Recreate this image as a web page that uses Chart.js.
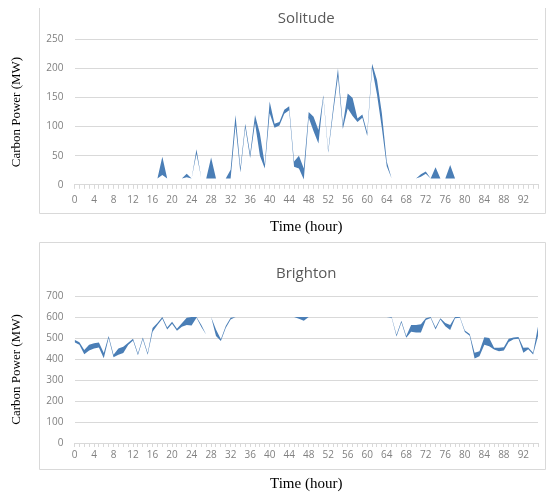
<!DOCTYPE html>
<html>
<head>
<meta charset="utf-8">
<script src="https://cdn.jsdelivr.net/npm/chart.js@4.4.1/dist/chart.umd.min.js"></script>
<style>
html,body{margin:0;padding:0;background:#fff;width:546px;height:492px;overflow:hidden;}
#topChart{position:absolute;left:0;top:0;}
#bottomChart{position:absolute;left:0;top:240px;}
</style>
</head>
<body>
<canvas id="topChart" width="546" height="240"></canvas>
<canvas id="bottomChart" width="546" height="252"></canvas>
<script>
// ---- categories (hours 0..95) ----
const hours = Array.from({length: 96}, (_, i) => String(i));

// ---- Solitude: upper and lower bound of the band (MW) ----
const solitudeHigh = [
  0,0,0,0,0,0,0,0,0,0,0,0,0,0,0,0,0,
  11,48,11,0,0,11,19,11,61,11,11,47,11,0,11,26,120,29,105,53,120,88,35,
  143,105,108,129,135,40,50,28,125,117,94,154,59,131,200,103,157,149,114,121,90,
  208,180,123,40,11,0,0,0,0,11,18,23,11,30,11,11,34,11,
  0,0,0,0,0,0,0,0,0,0,0,0,0,0,0,0,0
];
const solitudeLow = [
  0,0,0,0,0,0,0,0,0,0,0,0,0,0,0,0,0,
  11,17,11,0,0,11,13,11,53,11,11,11,11,0,11,11,102,21,98,46,106,50,28,
  123,98,102,122,128,31,28,9,115,92,71,150,55,122,186,96,131,118,108,115,84,
  200,155,97,32,11,0,0,0,0,11,14,19,11,11,11,11,11,11,
  0,0,0,0,0,0,0,0,0,0,0,0,0,0,0,0,0
];

// ---- Brighton: upper and lower bound of the band (MW) ----
const brightonHigh = [
  492,480,443,468,475,478,428,510,420,450,458,477,496,426,502,428,
  548,572,600,550,577,544,570,597,600,600,562,515,600,540,494,557,597,
  600,600,600,600,600,600,600,600,600,600,600,600,600,600,600,600,
  600,600,600,600,600,600,600,600,600,600,600,600,600,600,600,600,
  600,515,582,509,562,562,565,594,600,550,594,572,562,600,600,536,519,
  430,437,503,500,453,453,456,497,502,505,453,455,430,555,447
];
const brightonLow = [
  480,468,423,440,450,455,404,500,408,420,428,467,488,418,494,420,
  530,562,592,541,568,535,554,562,560,596,552,515,600,510,486,548,588,
  600,600,600,600,600,600,600,600,600,600,600,600,600,592,582,600,
  600,600,600,600,600,600,600,600,600,600,600,600,600,600,600,600,
  597,507,574,501,530,526,526,586,595,541,588,556,538,594,597,528,511,
  402,413,468,461,445,437,440,481,494,497,430,447,421,510,439
];

// ---- axis tick settings ----
const solitudeTicks = {max: 250, step: 50};
const brightonTicks = {max: 700, step: 100};

const framePlugin = {
  id: 'frame',
  beforeDraw(chart, args, opts) {
    const ctx = chart.ctx;
    ctx.save();
    ctx.strokeStyle = opts.color;
    ctx.lineWidth = 1;
    ctx.beginPath();
    if (opts.drawTop) {
      ctx.moveTo(opts.left, opts.top);
      ctx.lineTo(opts.right, opts.top);
    }
    ctx.moveTo(opts.left, opts.top);
    ctx.lineTo(opts.left, opts.bottom);
    ctx.lineTo(opts.right, opts.bottom);
    ctx.lineTo(opts.right, opts.top);
    ctx.stroke();
    ctx.restore();
  }
};

const sans = '"Open Sans", "Noto Sans", sans-serif';
const serif = '"Liberation Serif", "Times New Roman", serif';
const bandColor = '#4a7eb6';

function makeChart(id, titleText, low, high, tickCfg, g) {
  return new Chart(document.getElementById(id), {
    type: 'line',
    data: {
      labels: hours,
      datasets: [
        {label: 'low', data: low, borderWidth: 0, borderColor: 'rgba(0,0,0,0)',
         pointRadius: 0, pointHoverRadius: 0, fill: false, tension: 0},
        {label: 'high', data: high, borderWidth: 0, borderColor: 'rgba(0,0,0,0)',
         backgroundColor: bandColor, pointRadius: 0, pointHoverRadius: 0,
         fill: {target: '-1', above: bandColor, below: bandColor}, tension: 0}
      ]
    },
    options: {
      responsive: false,
      animation: false,
      devicePixelRatio: 1,
      layout: {padding: {left: 0, right: 8, top: 0, bottom: 0}},
      plugins: {
        legend: {display: false},
        tooltip: {enabled: false},
        title: {
          display: true, text: titleText, fullSize: false,
          color: '#595959',
          font: {family: sans, size: 15, weight: 'normal', lineHeight: 1.2},
          padding: {top: g.titleTop, bottom: g.titleBottom}
        },
        frame: g.frame
      },
      scales: {
        x: {
          type: 'category',
          offset: false,
          grid: {display: true, drawOnChartArea: false, drawTicks: true, tickLength: 4, color: '#d9d9d9'},
          border: {display: true, color: '#d9d9d9'},
          ticks: {
            autoSkip: false, maxRotation: 0, minRotation: 0,
            padding: g.xPad, color: '#808080',
            font: {family: sans, size: 10},
            callback: function (v, i) { return i % 4 === 0 ? this.getLabelForValue(v) : ''; }
          },
          title: {
            display: true, text: 'Time (hour)', color: '#000',
            font: {family: serif, size: 15, lineHeight: 1},
            padding: {top: 0, bottom: g.xTitleBottom}
          },
          afterFit: (s) => { s.height = g.xH; }
        },
        y: {
          min: 0, max: tickCfg.max,
          ticks: {stepSize: tickCfg.step, padding: 11, color: '#808080', font: {family: sans, size: 10}},
          grid: {color: '#d9d9d9', drawTicks: false},
          border: {display: false},
          title: {
            display: true, text: 'Carbon Power (MW)', color: '#000',
            font: {family: serif, size: 13, lineHeight: 1.2},
            padding: {top: 8.7, bottom: 0}
          },
          afterFit: (s) => { s.width = 74.5; }
        }
      }
    },
    plugins: [framePlugin]
  });
}

makeChart('topChart', 'Solitude', solitudeLow, solitudeHigh, solitudeTicks, {
  titleTop: 10, titleBottom: 11.3, xPad: 5, xH: 55.2, xTitleBottom: 5.8,
  frame: {left: 39.5, top: 8, right: 545.5, bottom: 213.5, drawTop: false, color: '#d9d9d9'}
});

makeChart('bottomChart', 'Brighton', brightonLow, brightonHigh, brightonTicks, {
  titleTop: 24.3, titleBottom: 13.7, xPad: 2, xH: 49, xTitleBottom: 0,
  frame: {left: 39.5, top: 2.5, right: 545.5, bottom: 229.5, drawTop: true, color: '#d9d9d9'}
});
</script>
</body>
</html>
